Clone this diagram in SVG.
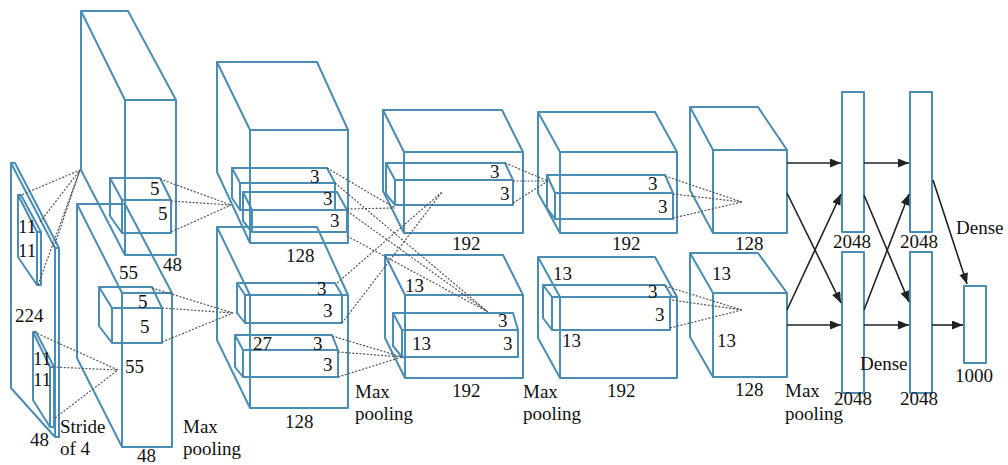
<svg xmlns="http://www.w3.org/2000/svg" width="1008" height="465" viewBox="0 0 1008 465" font-family="'Liberation Serif', 'DejaVu Serif', serif" font-size="19">
  <defs>
    <style>
      .box { fill: none; stroke: #4a8db4; stroke-width: 2; stroke-linejoin: round; }
      .dot { fill: none; stroke: #555; stroke-width: 1.2; stroke-dasharray: 2 1.6; }
      .arr { fill: none; stroke: #222; stroke-width: 1.6; marker-end: url(#head); }
      text { font-family: 'Liberation Serif', 'DejaVu Serif', serif; font-size: 19px; fill: #111; }
    </style>
    <marker id="head" markerUnits="userSpaceOnUse" markerWidth="12" markerHeight="10" refX="11" refY="4.5" orient="auto">
      <path d="M0,0 L11,4.5 L0,9 Z" fill="#222"/>
    </marker>
  </defs>
  <rect width="1008" height="465" fill="#fff"/>

  <!-- input image 224x224x3 with two 11x11 filters -->
  <g id="input">
    <path class="box" d="M11,163 H15 L59,248 H55 Z M55,248 H59 V437 H55 Z M11,163 V388 L55,437"/>
    <path class="box" d="M18,195 H21 L41,232 H37 Z M37,232 H41 V285 H37 Z M18,195 V257 L37,285"/>
    <path class="box" d="M33,332 H36 L54,367 H50 Z M50,367 H54 V427 H50 Z M33,332 V400 L50,427"/>
    <text x="18" y="233">11</text>
    <text x="18" y="257">11</text>
    <text x="15" y="322">224</text>
    <text x="33" y="365">11</text>
    <text x="33" y="386">11</text>
    <text x="30" y="446">48</text>
    <text x="60" y="433">Stride</text>
    <text x="60" y="455">of 4</text>
  </g>

  <!-- conv1: two 55x55x48 blocks with 5x5 filters -->
  <g id="conv1-top">
    <path class="box" d="M81,11 H128 L176,100 H125 Z M125,100 H176 V255 H125 Z M81,11 V170 L125,255"/>
    <path class="box" d="M110,178 H160 L171,200 H122 Z M122,200 H171 V233 H122 Z M110,178 V216 L122,233"/>
    <text x="150" y="195">5</text>
    <text x="158" y="220">5</text>
    <text x="119" y="279">55</text>
    <text x="163" y="271">48</text>
  </g>
  <g id="conv1-bottom">
    <path class="box" d="M77,204 H125 L172,293 H122 Z M122,293 H172 V447 H122 Z M77,204 V358 L122,447"/>
    <path class="box" d="M99,287 H152 L162,308 H112 Z M112,308 H162 V343 H112 Z M99,287 V326 L112,343"/>
    <text x="138" y="308">5</text>
    <text x="140" y="333">5</text>
    <text x="125" y="373">55</text>
    <text x="137" y="462">48</text>
  </g>
  <g id="pool1-label">
    <text x="183" y="433">Max</text>
    <text x="183" y="455">pooling</text>
  </g>

  <!-- conv2: two 27x27x128 blocks with 3x3 filters -->
  <g id="conv2-top">
    <path class="box" d="M217,62 H317 L348,130 H250 Z M250,130 H348 V243 H250 Z M217,62 V172 L250,243"/>
    <path class="box" d="M232,168 H327 L335,183 H240 Z M240,183 H335 V210 H240 Z M232,168 V198 L240,210"/>
    <path class="box" d="M243,192 H337 L347,210 H252 Z M252,210 H347 V232 H252 Z M243,192 V221 L252,232"/>
    <text x="310" y="183">3</text>
    <text x="323" y="205">3</text>
    <text x="330" y="227">3</text>
    <text x="286" y="262">128</text>
  </g>
  <g id="conv2-bottom">
    <path class="box" d="M217,227 H317 L348,295 H250 Z M250,295 H348 V408 H250 Z M217,227 V340 L250,408"/>
    <path class="box" d="M237,283 H335 L342,295 H245 Z M245,295 H342 V323 H245 Z M237,283 V313 L245,323"/>
    <path class="box" d="M235,335 H332 L338,350 H243 Z M243,350 H338 V377 H243 Z M235,335 V367 L243,377"/>
    <text x="317" y="295">3</text>
    <text x="323" y="317">3</text>
    <text x="253" y="350">27</text>
    <text x="313" y="350">3</text>
    <text x="323" y="371">3</text>
    <text x="285" y="428">128</text>
  </g>
  <g id="pool2-label">
    <text x="355" y="398">Max</text>
    <text x="355" y="420">pooling</text>
  </g>

  <!-- conv3: two 13x13x192 blocks -->
  <g id="conv3-top">
    <path class="box" d="M383,110 H502 L523,152 H404 Z M404,152 H523 V233 H404 Z M383,110 V191 L404,233"/>
    <path class="box" d="M386,163 H505 L513,180 H395 Z M395,180 H513 V205 H395 Z M386,163 V194 L395,205"/>
    <text x="490" y="178">3</text>
    <text x="500" y="200">3</text>
    <text x="452" y="250">192</text>
  </g>
  <g id="conv3-bottom">
    <path class="box" d="M385,255 H503 L523,295 H405 Z M405,295 H523 V378 H405 Z M385,255 V338 L405,378"/>
    <path class="box" d="M393,313 H513 L518,330 H402 Z M402,330 H518 V357 H402 Z M393,313 V346 L402,357"/>
    <text x="405" y="292">13</text>
    <text x="498" y="327">3</text>
    <text x="412" y="350">13</text>
    <text x="503" y="350">3</text>
    <text x="452" y="397">192</text>
  </g>
  <g id="pool3-label">
    <text x="523" y="398">Max</text>
    <text x="523" y="420">pooling</text>
  </g>

  <!-- conv4: two 13x13x192 blocks -->
  <g id="conv4-top">
    <path class="box" d="M538,112 H655 L677,152 H560 Z M560,152 H677 V233 H560 Z M538,112 V193 L560,233"/>
    <path class="box" d="M547,175 H665 L673,193 H555 Z M555,193 H673 V219 H555 Z M547,175 V208 L555,219"/>
    <text x="648" y="190">3</text>
    <text x="658" y="213">3</text>
    <text x="612" y="250">192</text>
  </g>
  <g id="conv4-bottom">
    <path class="box" d="M538,257 H655 L677,297 H560 Z M560,297 H677 V378 H560 Z M538,257 V338 L560,378"/>
    <path class="box" d="M543,285 H665 L672,297 H552 Z M552,297 H670 V330 H552 Z M543,285 V318 L552,330"/>
    <text x="553" y="280">13</text>
    <text x="648" y="298">3</text>
    <text x="655" y="321">3</text>
    <text x="562" y="347">13</text>
    <text x="607" y="397">192</text>
  </g>

  <!-- conv5: two 13x13x128 blocks -->
  <g id="conv5-top">
    <path class="box" d="M690,107 H758 L787,150 H713 Z M713,150 H787 V233 H713 Z M690,107 V190 L713,233"/>
    <text x="735" y="250">128</text>
  </g>
  <g id="conv5-bottom">
    <path class="box" d="M690,253 H758 L787,293 H713 Z M713,293 H787 V377 H713 Z M690,253 V337 L713,377"/>
    <text x="712" y="280">13</text>
    <text x="717" y="347">13</text>
    <text x="735" y="396">128</text>
  </g>
  <g id="pool5-label">
    <text x="785" y="397">Max</text>
    <text x="785" y="420">pooling</text>
  </g>

  <!-- fully connected layers -->
  <g id="fc6-top">
    <rect class="box" x="842" y="92" width="22" height="140"/>
    <text x="833" y="248">2048</text>
  </g>
  <g id="fc6-bottom">
    <rect class="box" x="842" y="252" width="22" height="141"/>
    <text x="834" y="405">2048</text>
  </g>
  <g id="fc7-top">
    <rect class="box" x="910" y="92" width="22" height="140"/>
    <text x="900" y="248">2048</text>
  </g>
  <g id="fc7-bottom">
    <rect class="box" x="910" y="252" width="22" height="141"/>
    <text x="900" y="405">2048</text>
  </g>
  <g id="output">
    <rect class="box" x="964" y="286" width="22" height="77"/>
    <text x="955" y="382">1000</text>
  </g>
  <g id="dense-labels">
    <text x="956" y="234">Dense</text>
    <text x="860" y="370">Dense</text>
  </g>

  <g id="connectors">
    <!-- receptive fields (dotted) -->
    <path class="dot" d="M19,196 L80,170 M40,222 L80,170 M54,247 L80,170 M38,285 L80,170"/>
    <path class="dot" d="M34,332 L118,370 M53,367 L118,370 M55,418 L118,370"/>
    <path class="dot" d="M160,179 L231,205 M171,201 L231,205 M171,232 L231,205"/>
    <path class="dot" d="M152,288 L233,313 M162,308 L233,313 M162,342 L233,313"/>
    <path class="dot" d="M327,168 L395,208 M347,209 L395,208"/>
    <path class="dot" d="M335,183 L488,312 M347,211 L488,312 M347,236 L488,312"/>
    <path class="dot" d="M337,283 L442,192 M342,323 L442,192"/>
    <path class="dot" d="M332,336 L402,357 M338,352 L402,357 M338,377 L402,357"/>
    <path class="dot" d="M505,163 L548,181 M513,181 L548,181 M513,203 L548,181"/>
    <path class="dot" d="M665,176 L742,202 M673,194 L742,202 M673,218 L742,202"/>
    <path class="dot" d="M665,286 L742,310 M672,300 L742,310 M670,328 L742,310"/>
    <!-- dense connections -->
    <path class="arr" d="M787,163 L841,163"/>
    <path class="arr" d="M787,193 L841,303"/>
    <path class="arr" d="M787,310 L841,194"/>
    <path class="arr" d="M787,325 L841,325"/>
    <path class="arr" d="M864,163 L909,163"/>
    <path class="arr" d="M864,195 L909,302"/>
    <path class="arr" d="M864,310 L909,194"/>
    <path class="arr" d="M864,325 L909,325"/>
    <path class="arr" d="M933,180 L967,284"/>
    <path class="arr" d="M932,325 L963,325"/>
  </g>
</svg>
